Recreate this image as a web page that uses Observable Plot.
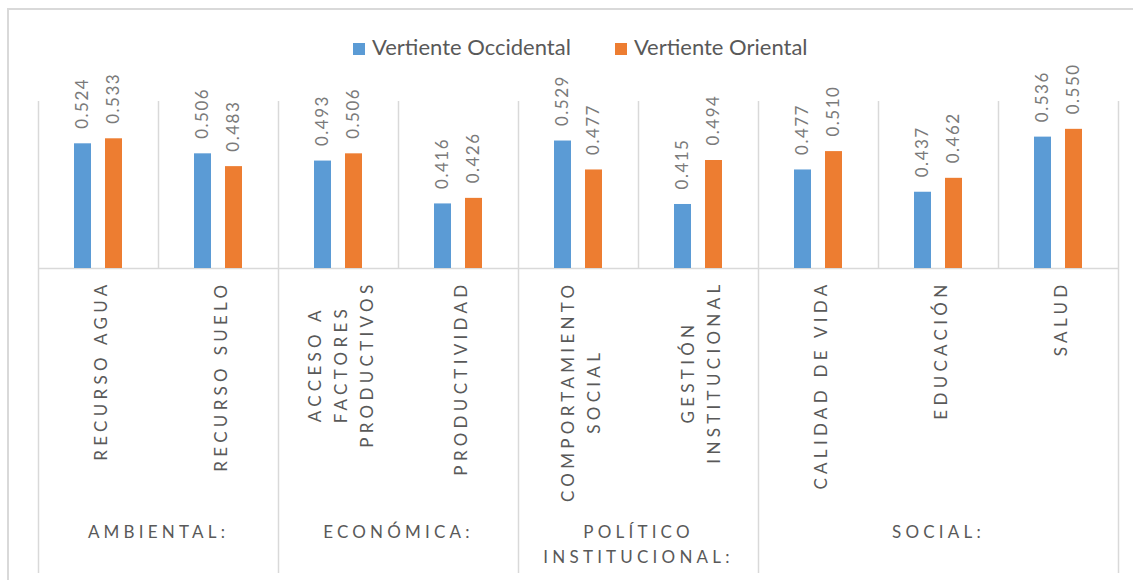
<!DOCTYPE html>
<html><head><meta charset="utf-8">
<script src="https://cdn.jsdelivr.net/npm/d3@7"></script>
<script src="https://cdn.jsdelivr.net/npm/@observablehq/plot@0.6"></script>
<style>
html,body{margin:0;padding:0;background:#fff;overflow:hidden;}
#wrap{position:relative;width:1133px;height:580px;overflow:hidden;}
#border{position:absolute;left:7px;top:8px;width:1200px;height:700px;border:2px solid #d9d9d9;box-sizing:border-box;}
#legend{position:relative;height:58px;font-family:Lato,sans-serif;font-size:22px;color:#595959;}
#legend .row{position:absolute;left:353px;top:34px;display:flex;gap:44px;white-space:nowrap;line-height:26px;}
#legend .item{display:flex;align-items:center;}
#legend .sw{width:12px;height:12px;margin-right:7px;display:inline-block;position:relative;top:2px;}
#chart{position:relative;}
</style></head><body>
<div id="wrap"><div id="border"></div><div id="legend"></div><div id="chart"></div></div>
<script>
// ---- data ----
const groups = ["AMBIENTAL:", "ECONÓMICA:", "POLÍTICO\nINSTITUCIONAL:", "SOCIAL:"];
const groupSizes = [2, 2, 2, 3];
const subcategories = ["RECURSO AGUA", "RECURSO SUELO", "ACCESO A\nFACTORES\nPRODUCTIVOS", "PRODUCTIVIDAD",
  "COMPORTAMIENTO\nSOCIAL", "GESTIÓN\nINSTITUCIONAL", "CALIDAD DE VIDA", "EDUCACIÓN", "SALUD"];
const series = ["Vertiente Occidental", "Vertiente Oriental"];
const occidental = [0.524, 0.506, 0.493, 0.416, 0.529, 0.415, 0.477, 0.437, 0.536];
const oriental   = [0.533, 0.483, 0.506, 0.426, 0.477, 0.494, 0.510, 0.462, 0.550];
const colors = ["#5B9BD5", "#ED7D31"];
const yDomain = [0.3, 0.6];

// ---- legend ----
const legend = document.getElementById("legend");
const row = document.createElement("div"); row.className = "row"; legend.append(row);
series.forEach((s, i) => {
  const item = document.createElement("div"); item.className = "item";
  const sw = document.createElement("span"); sw.className = "sw"; sw.style.background = colors[i];
  item.append(sw, document.createTextNode(s)); row.append(item);
});

// ---- chart ----
const W = 1133, H = 522, mL = 38, mR = 15, mT = 43, mB = 7, baseY = 210;
const step = (W - mL - mR) / subcategories.length;
const occData = occidental.map((v, i) => ({sub: subcategories[i], value: v}));
const oriData = oriental.map((v, i) => ({sub: subcategories[i], value: v}));
const firstOfGroup = []; { let k = 0; groupSizes.forEach(n => { firstOfGroup.push(k); k += n; }); }
const groupBoundaries = subcategories.filter((_, i) => firstOfGroup.includes(i));
const innerBoundaries = subcategories.filter((_, i) => !firstOfGroup.includes(i));
const grid = {stroke: "#d9d9d9", strokeWidth: 1.5};
const labelFont = {fontSize: 17, fill: "#595959"};

const svg = Plot.plot({
  width: W, height: H, marginLeft: mL, marginRight: mR, marginTop: mT, marginBottom: mB,
  style: {fontFamily: "Lato, sans-serif", background: "transparent", overflow: "visible"},
  x: {type: "band", domain: subcategories, padding: 0, axis: null},
  y: {domain: yDomain, range: [baseY, mT], clamp: true, axis: null},
  marks: [
    Plot.ruleX(innerBoundaries, {x: d => d, y1: () => yDomain[0], y2: () => yDomain[1], dx: -step / 2, ...grid}),
    Plot.ruleX(groupBoundaries, {x: d => d, dx: -step / 2, ...grid}),
    Plot.ruleX([subcategories[subcategories.length - 1]], {x: d => d, dx: step / 2, ...grid}),
    Plot.ruleY([yDomain[0]], grid),
    Plot.barY(occData, {x: "sub", y: "value", fill: colors[0], insetLeft: 36, insetRight: 67}),
    Plot.barY(oriData, {x: "sub", y: "value", fill: colors[1], insetLeft: 67, insetRight: 36}),
    Plot.text(occData, {x: "sub", y: "value", text: d => d.value.toFixed(3), rotate: -90, textAnchor: "start",
      dx: -15.5, dy: -15, fontSize: 17, fill: "#7a7a7a"}),
    Plot.text(oriData, {x: "sub", y: "value", text: d => d.value.toFixed(3), rotate: -90, textAnchor: "start",
      dx: 15.5, dy: -15, fontSize: 17, fill: "#7a7a7a"}),
    Plot.text(subcategories, {x: d => d, y: () => yDomain[0], text: d => d, rotate: -90, textAnchor: "middle",
      dy: 12, lineHeight: 1.55, ...labelFont}),
    ...groups.map((g, j) => Plot.text([g], {x: () => subcategories[firstOfGroup[j]], y: () => yDomain[0], text: d => d,
      dx: (groupSizes[j] - 1) / 2 * step, dy: 252, lineAnchor: "top", lineHeight: 1.47, ...labelFont}))
  ]
});
document.getElementById("chart").append(svg);

// letter spacing and top-alignment of the rotated category labels
const subSet = new Set(subcategories.map(s => s.replace(/\n/g, "")));
const groupSet = new Set(groups.map(s => s.replace(/\n/g, "")));
const valSet = new Set([...occidental, ...oriental].map(v => v.toFixed(3)));
d3.select(svg).selectAll("text").each(function () {
  const t = this.textContent;
  if (subSet.has(t)) {
    this.style.letterSpacing = "4.3px";
    const b = this.getBBox();
    const tr = this.getAttribute("transform") || "";
    this.setAttribute("transform", tr + ` translate(${-(b.x + b.width)},0)`);
  } else if (groupSet.has(t)) {
    this.style.letterSpacing = "4.2px";
  } else if (valSet.has(t)) {
    this.style.letterSpacing = "1.5px";
  }
});
</script>
</body></html>
